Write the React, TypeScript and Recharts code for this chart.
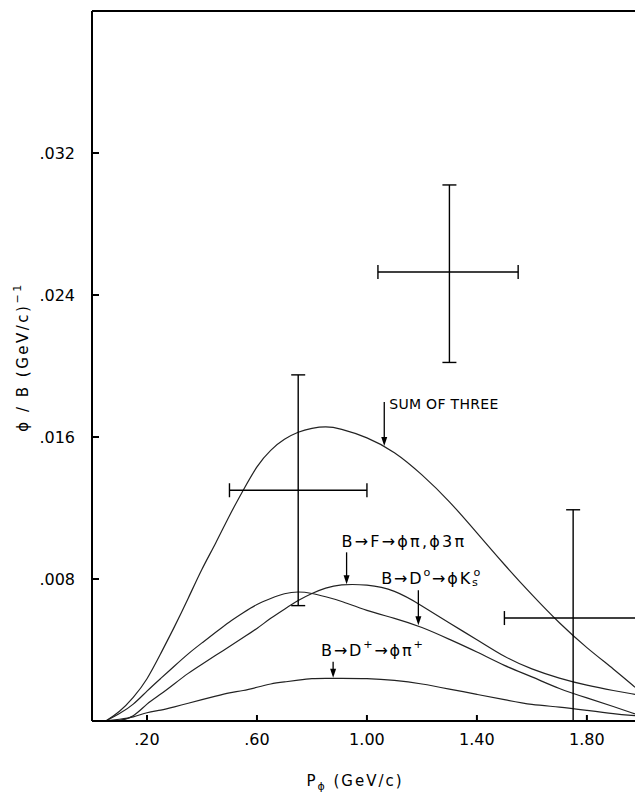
import {
	ComposedChart,
	Line,
	Scatter,
	ErrorBar,
	XAxis,
	YAxis,
	ReferenceDot,
} from "recharts";

const FONT = "DejaVu Sans";

// momentum grid (GeV/c) the curves were read at
const momentum = [0.05, 0.1, 0.15, 0.2, 0.25, 0.3, 0.35, 0.4, 0.45, 0.5, 0.55, 0.6, 0.65, 0.7, 0.75, 0.8, 0.85, 0.9, 1.0, 1.1, 1.2, 1.3, 1.4, 1.5, 1.6, 1.7, 1.8, 1.9, 1.975];
const sumOfThree = [0, 0.0005, 0.0013, 0.0023, 0.0038, 0.0053, 0.0069, 0.0086, 0.01, 0.0116, 0.013, 0.0144, 0.0153, 0.0159, 0.0163, 0.0165, 0.0166, 0.0165, 0.016, 0.0152, 0.0139, 0.0124, 0.0106, 0.0088, 0.0071, 0.0055, 0.0041, 0.0029, 0.0019];
const viaF = [0, 0, 0.0002, 0.001, 0.0015, 0.0021, 0.0027, 0.0032, 0.0037, 0.0042, 0.0047, 0.0052, 0.0058, 0.0063, 0.0068, 0.0072, 0.0075, 0.0077, 0.0077, 0.0074, 0.0065, 0.0055, 0.0046, 0.0036, 0.0029, 0.0024, 0.002, 0.0017, 0.0015];
const viaD0 = [0, 0.0004, 0.0009, 0.0017, 0.0024, 0.0031, 0.0038, 0.0044, 0.005, 0.0056, 0.0061, 0.0066, 0.0069, 0.0072, 0.0073, 0.0072, 0.007, 0.0068, 0.0062, 0.0058, 0.0053, 0.0046, 0.0039, 0.0031, 0.0025, 0.0018, 0.0013, 0.0008, 0.0004];
const viaDplus = [0, 0.0001, 0.0002, 0.0005, 0.0006, 0.0008, 0.001, 0.0012, 0.0014, 0.0016, 0.0017, 0.0019, 0.0021, 0.0022, 0.0023, 0.0024, 0.0024, 0.0024, 0.0024, 0.0023, 0.0021, 0.0018, 0.0015, 0.0012, 0.0009, 0.0008, 0.0006, 0.0004, 0.0003];

// measured points with their bin widths and errors
const pointX = [0.75, 1.3, 1.75];
const pointY = [0.013, 0.0253, 0.0058];
const binLow = [0.5, 1.04, 1.5];
const binHigh = [1.0, 1.55, 2.0];
const errLow = [0.0065, 0.0202, 0];
const errHigh = [0.0195, 0.0302, 0.0119];

const xTicks = [0.2, 0.6, 1.0, 1.4, 1.8];
const yTicks = [0.008, 0.016, 0.024, 0.032];

// curve labels and where their arrows touch the curves
const calloutX = [1.063, 0.926, 1.187, 0.877];
const calloutY = [0.0155, 0.0077, 0.0054, 0.00244];

type Part = [string, number];
const calloutText: Part[][] = [
	[["SUM OF THREE", 0]],
	[["B→F→ϕπ,ϕ3π", 0]],
	[["B→D", 0], ["o", -6], ["→ϕK", 0], ["s", 4], ["o", -6]],
	[["B→D", 0], ["+", -6], ["→ϕπ", 0], ["+", -6]],
];
const calloutStyle = [
	{ len: 44, dx: 5, dy: -42, size: 14, spacing: 0.3 },
	{ len: 32, dx: -5, dy: -43, size: 16, spacing: 2.2 },
	{ len: 35, dx: -37, dy: -47, size: 16, spacing: 1.8 },
	{ len: 16, dx: -12, dy: -28, size: 16, spacing: 1.8 },
];

const curveData = momentum.map((x, i) => ({
	x,
	sum: sumOfThree[i],
	f: viaF[i],
	d0: viaD0[i],
	dp: viaDplus[i],
}));

const pointData = pointX.map((x, i) => ({
	x,
	y: pointY[i],
	ex: [x - binLow[i], binHigh[i] - x],
	ey: [pointY[i] - errLow[i], errHigh[i] - pointY[i]],
}));

const fmt = (digits: number) => (v: number) => v.toFixed(digits).replace(/^0/, "");

const Callout = (props: any) => {
	const { cx, cy, style, parts } = props;
	let prev = 0;
	return (
		<g>
			<line x1={cx} y1={cy - style.len} x2={cx} y2={cy - 7} stroke="#000" strokeWidth={1.3} />
			<polygon points={`${cx - 3},${cy - 9} ${cx + 3},${cy - 9} ${cx},${cy}`} fill="#000" />
			<text
				x={cx + style.dx}
				y={cy + style.dy}
				fontSize={style.size}
				fontFamily={FONT}
				letterSpacing={style.spacing}
				dominantBaseline="central"
				fill="#000">
				{parts.map(([t, shift]: Part, k: number) => {
					const dy = shift - prev;
					prev = shift;
					const small = shift !== 0;
					return (
						<tspan key={k} dy={dy} dx={small && shift < 0 && k === 4 ? -6 : 0} fontSize={small ? style.size * 0.7 : style.size}>
							{t}
						</tspan>
					);
				})}
			</text>
		</g>
	);
};

const lineProps = {
	type: "basis" as const,
	stroke: "#222",
	strokeWidth: 1.2,
	dot: false,
	isAnimationActive: false,
};

export default function App() {
	return (
		<div style={{ width: 635, height: 794 }}>
			<style>{"body{margin:0}"}</style>
			<ComposedChart
				width={635}
				height={794}
				data={curveData}
				margin={{ top: 10, right: 0, left: 0, bottom: 0 }}>
				<XAxis
					dataKey="x"
					type="number"
					domain={[0, 1.975]}
					allowDataOverflow
					ticks={xTicks}
					tickFormatter={fmt(2)}
					height={73}
					tickSize={-6}
					tickMargin={19}
					axisLine={{ stroke: "#000", strokeWidth: 2 }}
					tickLine={{ stroke: "#000", strokeWidth: 2 }}
					tick={{ fill: "#000", fontSize: 16, fontFamily: FONT }}
					label={{
						content: () => (
							<text x={355} y={786} textAnchor="middle" fontSize={15} fontFamily={FONT} letterSpacing={2} fill="#000">
								P<tspan dy={4} fontSize={11}>ϕ</tspan>
								<tspan dy={-4}> (GeV/c)</tspan>
							</text>
						),
					}}
				/>
				<XAxis
					xAxisId="top"
					orientation="top"
					dataKey="x"
					type="number"
					domain={[0, 1.975]}
					allowDataOverflow
					ticks={xTicks}
					height={1}
					tickSize={-6}
					tick={false}
					axisLine={{ stroke: "#000", strokeWidth: 2 }}
					tickLine={{ stroke: "#000", strokeWidth: 2 }}
				/>
				<YAxis
					type="number"
					domain={[0, 0.04]}
					allowDataOverflow
					ticks={yTicks}
					tickFormatter={fmt(3)}
					width={92}
					tickSize={-7}
					tickMargin={24}
					axisLine={{ stroke: "#000", strokeWidth: 2 }}
					tickLine={{ stroke: "#000", strokeWidth: 2 }}
					tick={{ fill: "#000", fontSize: 16, fontFamily: FONT }}
					label={{
						content: () => (
							<text
								x={23}
								y={357}
								transform="rotate(-90 23 357)"
								textAnchor="middle"
								dominantBaseline="central"
								fontSize={15}
								fontFamily={FONT}
								letterSpacing={2.5}
								fill="#000">
								ϕ / B (GeV/c)<tspan dy={-6} fontSize={11}>−1</tspan>
							</text>
						),
					}}
				/>
				<Line dataKey="sum" {...lineProps} />
				<Line dataKey="f" {...lineProps} />
				<Line dataKey="d0" {...lineProps} />
				<Line dataKey="dp" {...lineProps} />
				<Scatter data={pointData} dataKey="y" shape={() => <g />} isAnimationActive={false}>
					<ErrorBar dataKey="ex" direction="x" width={7} stroke="#000" strokeWidth={1.4} />
					<ErrorBar dataKey="ey" direction="y" width={7} stroke="#000" strokeWidth={1.4} />
				</Scatter>
				{calloutX.map((x, i) => (
					<ReferenceDot
						key={i}
						x={x}
						y={calloutY[i]}
						r={0}
						ifOverflow="visible"
						shape={(p: any) => <Callout cx={p.cx} cy={p.cy} style={calloutStyle[i]} parts={calloutText[i]} />}
					/>
				))}
			</ComposedChart>
		</div>
	);
}
